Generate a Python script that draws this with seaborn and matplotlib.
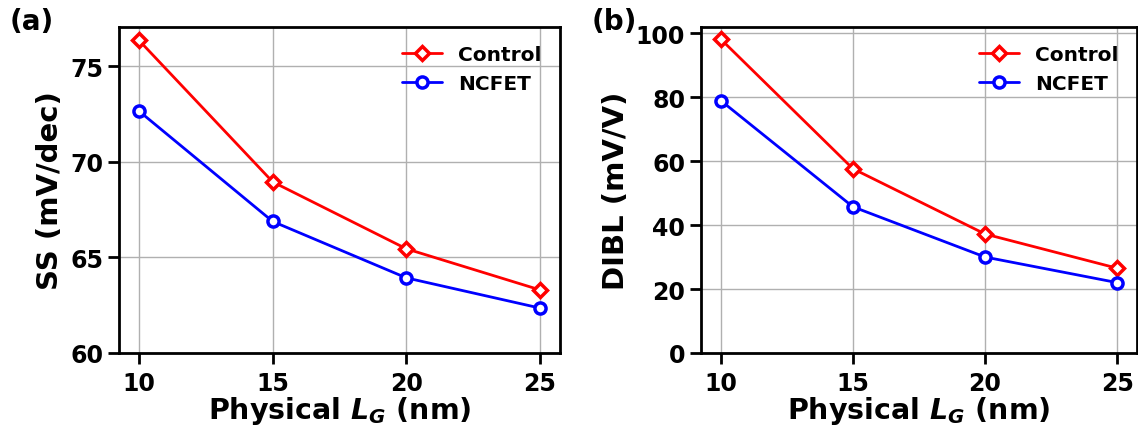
import numpy as np
import pandas as pd
import matplotlib
matplotlib.use('Agg')
import matplotlib.pyplot as plt
import seaborn as sns

# data
lg = [10, 15, 20, 25]
ss_control = [76.35, 68.95, 65.45, 63.3]
ss_ncfet = [72.65, 66.88, 63.93, 62.35]
dibl_control = [98.1, 57.6, 37.2, 26.5]
dibl_ncfet = [78.9, 45.7, 30.0, 22.0]
series_names = ['Control', 'NCFET']
series_colors = ['red', 'blue']
series_markers = ['D', 'o']


def draw_panel(ax, y_values, ylabel, ybottom, yticks):
    '''
    Draws the Control and NCFET lines of one panel.
    '''
    for vals, name, col, mk in zip(y_values, series_names,
                                   series_colors, series_markers):
        df = pd.DataFrame({'lg': lg, 'val': vals})
        sns.lineplot(data=df, x='lg', y='val', ax=ax, color=col,
                     marker=mk, markersize=7.5 if mk == 'D' else 8,
                     markerfacecolor='white', markeredgecolor=col,
                     markeredgewidth=2.5, linewidth=2, label=name)
    ax.set_ylim(bottom=ybottom)
    ax.set_xticks(lg)
    ax.set_yticks(yticks)
    ax.grid(True, color='#b0b0b0', linewidth=1)
    ax.set_axisbelow(True)
    ax.set_xlabel('Physical $L_G$ (nm)', fontsize=20.5, fontweight='bold',
                  color='black', labelpad=-1)
    ax.set_ylabel(ylabel, fontsize=21, fontweight='bold', color='black')
    ax.tick_params(direction='out', length=8, width=2, labelsize=17,
                   colors='black')
    ax.tick_params(axis='x', pad=5)
    for lab in ax.get_xticklabels() + ax.get_yticklabels():
        lab.set_fontweight('bold')
    for sp in ax.spines.values():
        sp.set_linewidth(2)
        sp.set_color('black')
    leg = ax.legend(loc='upper right', frameon=False,
                    prop={'weight': 'bold', 'size': 14.5})
    for t in leg.get_texts():
        t.set_color('black')
    return leg


def main():
    sns.set_style('ticks')
    plt.rcParams['mathtext.default'] = 'bfit'
    plt.rcParams['mathtext.fontset'] = 'dejavusans'
    fig = plt.figure(figsize=(11.38, 4.27), dpi=100)
    ax1 = fig.add_axes([119 / 1138, 73 / 427, 441 / 1138, 326 / 427])
    ax2 = fig.add_axes([701 / 1138, 73 / 427, 436 / 1138, 326 / 427])

    draw_panel(ax1, [ss_control, ss_ncfet], 'SS (mV/dec)', 60,
               [60, 65, 70, 75])
    draw_panel(ax2, [dibl_control, dibl_ncfet], 'DIBL (mV/V)', 0,
               [0, 20, 40, 60, 80, 100])

    fig.text(10 / 1138, 1 - 22 / 427, '(a)', fontsize=20,
             fontweight='bold', va='center', color='black')
    fig.text(592 / 1138, 1 - 22 / 427, '(b)', fontsize=20,
             fontweight='bold', va='center', color='black')
    fig.savefig('out.png', dpi=100)


if __name__ == '__main__':
    main()
